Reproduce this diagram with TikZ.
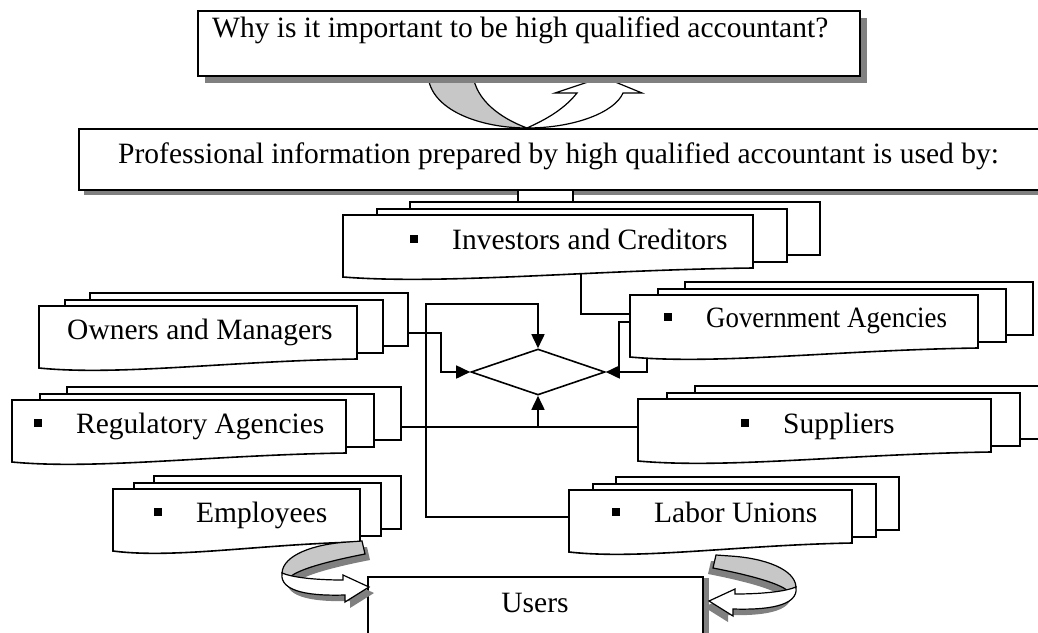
\documentclass[tikz,border=0pt]{standalone}
\usepackage{fontspec}
\setmainfont{Liberation Serif}
\usetikzlibrary{shapes.geometric,arrows.meta,shadows}

\pgfdeclarelayer{wires}
\pgfsetlayers{wires,main}

\tikzset{
  box/.style={draw, fill=white, line width=1.8pt, inner sep=0pt, anchor=north west},
  dropped/.style 2 args={drop shadow={shadow xshift=#1, shadow yshift=#2, fill=black!50, opacity=1}},
  sheet/.style={draw, fill=white, line width=1.6pt, inner sep=0pt, anchor=north west, minimum height=53pt},
  caption/.style={font=\fontsize{29.5}{35}\selectfont, inner sep=0pt, anchor=base west},
  wire/.style={line width=1.7pt},
  arrowed/.style={-{Triangle[length=14pt,width=13pt]}},
  fold/.style={draw, line width=1.2pt, fill=black!22},
  face/.style={draw, line width=1.2pt, fill=white},
}

% square bullet in front of an entry
\newcommand\itm{\rule[6pt]{8pt}{8pt}\hspace{34pt}}

% three stacked sheets: name, left, top, width, step
\newcommand\sheets[5]{%
  \node[sheet, minimum width=#4pt] (#1-2) at ({#2+2*#5},{#3-14}) {};
  \node[sheet, minimum width=#4pt] (#1-1) at ({#2+#5},{#3-7}) {};
  \node[sheet, draw=none, fill=none, minimum width=#4pt] (#1) at (#2,#3) {};
  \draw[sheet] (#2,#3) -- ({#2+#4},#3) -- ({#2+#4},{#3+53})
    .. controls ({#2+0.6*#4},{#3+55}) and ({#2+0.25*#4},{#3+70}) .. (#2,{#3+62}) -- cycle;
}

% ribbon arrow, tip at the origin
\newcommand\twist{%
  \begin{scope}[shift={(5,6)}, black!50]
    \fill (-21,-45) -- (-7,-46) -- (-4,-33) .. controls (-40,-26) and (-70,-18) .. (-79,-10)
      -- (-87,-14) .. controls (-86,-32) and (-55,-43) .. (-21,-45) -- cycle;
    \fill (-87,-14) .. controls (-75,-9) and (-50,-7) .. (-26,-7) -- (-26,-12) -- (0,0) -- (-24,15)
      -- (-24,8) .. controls (-55,9) and (-90,6) .. (-87,-14) -- cycle;
  \end{scope}
  \draw[fold] (-21,-45) -- (-7,-46) -- (-4,-33) .. controls (-40,-26) and (-70,-18) .. (-79,-10)
    -- (-87,-14) .. controls (-86,-32) and (-55,-43) .. (-21,-45) -- cycle;
  \draw[face] (-87,-14) .. controls (-75,-9) and (-50,-7) .. (-26,-7) -- (-26,-12) -- (0,0) -- (-24,15)
    -- (-24,8) .. controls (-55,9) and (-90,6) .. (-87,-14) -- cycle;
}

\begin{document}
\begin{tikzpicture}[x=1pt, y=-1pt]
\useasboundingbox (0,0) rectangle (1038,632);

% turn-around arrow under the question
\draw[fold] (428,75) .. controls (430,110) and (480,128) .. (527,128)
  .. controls (500,118) and (476,100) .. (473,75) -- cycle;
\draw[face] (527,128) .. controls (575,128) and (615,112) .. (623,93) -- (642,93) -- (603,77)
  -- (555,93) -- (577,93) .. controls (562,112) and (540,122) .. (527,128) -- cycle;

\node[box, dropped={7pt}{-7pt}, minimum width=662pt, minimum height=65pt] (why) at (197,10) {};
\node[caption] (why-t) at (212,37) {Why is it important to be high qualified accountant?};

\node[box, dropped={5pt}{-5pt}, minimum width=985pt, minimum height=61pt] (prof) at (78,128) {};
\node[caption] (prof-t) at (118,163) {Professional information prepared by high qualified accountant is used by:};

\node[box, line width=1.6pt, minimum width=55pt, minimum height=13pt, anchor=north] (stem) at (545.5,189) {};

% the users
\sheets{inv}{343}{215}{410}{33}
\sheets{own}{39}{306}{318}{25}
\sheets{gov}{630}{295}{348}{27}
\sheets{reg}{12}{400}{334}{27}
\sheets{sup}{638}{399}{353}{28}
\sheets{emp}{113}{489}{247}{20}
\sheets{lab}{569}{490}{283}{23}

\node[caption] (inv-t) at (410,249) {\itm Investors and Creditors};
\node[caption] (own-t) at (67,339) {Owners and Managers};
\node[caption] (gov-t) at (664,327) {\itm\scalebox{0.91}[1]{Government Agencies}};
\node[caption] (reg-t) at (34,433) {\itm Regulatory Agencies};
\node[caption] (sup-t) at (741,433) {\itm Suppliers};
\node[caption] (emp-t) at (154,522) {\itm Employees};
\node[caption] (lab-t) at (612,522) {\itm Labor Unions};

\node[diamond, draw, line width=1.6pt, aspect=2.9, minimum width=134pt, minimum height=46pt, inner sep=0pt] (hub) at (538,372) {};

\coordinate (bend) at (426,304);
\begin{pgfonlayer}{wires}
  \draw[wire] ([xshift=238pt]inv.south west) |- ([yshift=-19pt]gov.north west);
  \draw[wire, arrowed] (own) -| ([xshift=-29pt]hub.west) -- (hub.west);
  \draw[wire, arrowed] (gov) -| ([xshift=13pt]hub.east) -- (hub.east);
  \draw[wire] ([xshift=17pt]gov.south west) |- ([xshift=13pt]hub.east);
  \draw[wire, arrowed] (lab) -| (bend) -| (hub.north);
  \draw[wire] (reg) -- (reg -| sup);
  \draw[wire, arrowed] (reg -| hub) -- (hub.south);
\end{pgfonlayer}

\node[box, dropped={6pt}{-1pt}, minimum width=335pt, minimum height=80pt] (users) at (367,576) {};
\node[caption, anchor=base] (users-t) at (535,612) {Users};

\begin{scope}[shift={(369,587)}]
  \twist
\end{scope}
\begin{scope}[shift={(709,601)}, xscale=-1]
  \twist
\end{scope}
\end{tikzpicture}
\end{document}
